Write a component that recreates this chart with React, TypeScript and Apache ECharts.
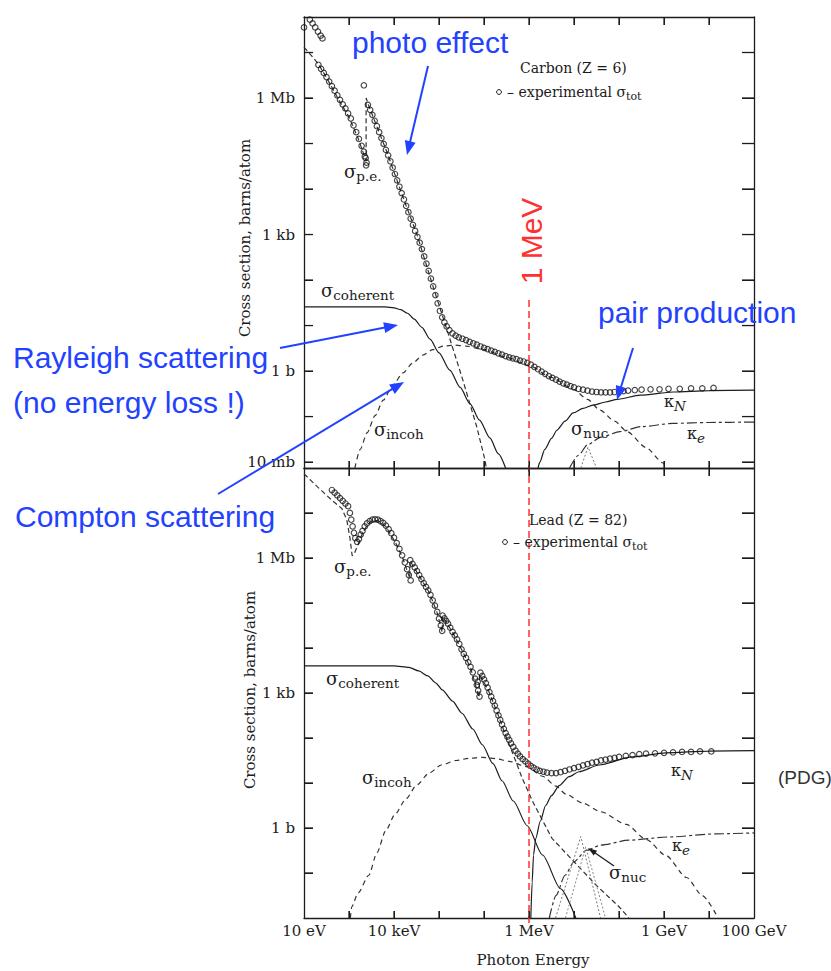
import React, { useEffect, useRef } from 'react';
import * as echarts from 'echarts';

const W = 831;
const H = 971;

const INK = '#1c1c1c';
const BLUE = '#2242ff';
const RED = '#ff3030';
const SERIF = '"DejaVu Serif", "Liberation Serif", serif';
const SANS = '"Liberation Sans", Arial, sans-serif';

// ---- layout of the two panels ----
const GRID_LEFT = 304;
const GRID_WIDTH = 450;
const TOP_GRID = { top: 17, height: 451 };
const BOT_GRID = { top: 468, height: 450 };

// ---- axis ranges (log10 units) ----
const X_LOG_RANGE = [1, 10.999]; // 10 eV ... 100 GeV
const TOP_Y_LOG_RANGE = [-2.13, 7.78];
const BOT_Y_LOG_RANGE = [-2, 7.999];
const ONE_MEV = 1e6;

// ---- ticks (decades) and tick labels ----
const xDecades = [2, 3, 4, 5, 6, 7, 8, 9, 10];
const topYDecades = [-2, -1, 0, 1, 2, 3, 4, 5, 6, 7];
const botYDecades = [-1, 0, 1, 2, 3, 4, 5, 6, 7];
const xTickExps = [1, 3, 6, 9, 11];
const xTickLabels = ['10 eV', '10 keV', '1 MeV', '1 GeV', '100 GeV'];
const yTickExps = [-2, 0, 3, 6];
const yTickLabels = ['10 mb', '1 b', '1 kb', '1 Mb'];

// ---- data: pairs of [log10(E / eV), log10(sigma / barn)] ----
const carbonExp = [
  [1.0, 7.55], [1.13, 7.72], [1.19, 7.64], [1.25, 7.55], [1.31, 7.46], [1.37, 7.37], [1.41, 7.31],
  [1.32, 6.73], [1.38, 6.64], [1.44, 6.55], [1.5, 6.46], [1.56, 6.36], [1.62, 6.26], [1.68, 6.16],
  [1.74, 6.06], [1.8, 5.96], [1.86, 5.86], [1.92, 5.77], [1.98, 5.66], [2.04, 5.55], [2.1, 5.4],
  [2.16, 5.25], [2.22, 5.1], [2.28, 4.95], [2.33, 4.82], [2.37, 4.68], [2.39, 4.58], [2.35, 4.72],
  [2.38, 4.52], [2.33, 6.28],
  [2.42, 5.85], [2.47, 5.74], [2.52, 5.63], [2.57, 5.5], [2.62, 5.38], [2.67, 5.25], [2.72, 5.12],
  [2.77, 4.99], [2.82, 4.86], [2.87, 4.74], [2.92, 4.61], [2.97, 4.47], [3.02, 4.33], [3.07, 4.19],
  [3.12, 4.05], [3.17, 3.91], [3.22, 3.77], [3.27, 3.63], [3.32, 3.49], [3.37, 3.35], [3.42, 3.21],
  [3.47, 3.08], [3.52, 2.95], [3.57, 2.82], [3.62, 2.68], [3.67, 2.52], [3.72, 2.36], [3.77, 2.2],
  [3.82, 2.03], [3.87, 1.86], [3.92, 1.67], [3.97, 1.49], [4.02, 1.32], [4.07, 1.18], [4.12, 1.07],
  [4.17, 0.98], [4.23, 0.9], [4.3, 0.83], [4.37, 0.78], [4.44, 0.74], [4.52, 0.71], [4.6, 0.68],
  [4.68, 0.64], [4.76, 0.61], [4.84, 0.58], [4.92, 0.54], [5.0, 0.51], [5.08, 0.48], [5.16, 0.45],
  [5.24, 0.42], [5.32, 0.39], [5.4, 0.36], [5.48, 0.33], [5.56, 0.3], [5.64, 0.28], [5.72, 0.26],
  [5.8, 0.23], [5.88, 0.21], [5.96, 0.18], [6.04, 0.14], [6.12, 0.09], [6.2, 0.04], [6.28, -0.01],
  [6.36, -0.06], [6.44, -0.11], [6.52, -0.15], [6.6, -0.19], [6.68, -0.23], [6.76, -0.27], [6.84, -0.3],
  [6.92, -0.33], [7.0, -0.36], [7.1, -0.39], [7.2, -0.41], [7.3, -0.43], [7.4, -0.45], [7.5, -0.46],
  [7.6, -0.47], [7.7, -0.47], [7.8, -0.47], [7.9, -0.46], [8.0, -0.45], [8.1, -0.44], [8.2, -0.43],
  [8.35, -0.42], [8.5, -0.41], [8.7, -0.4], [8.9, -0.4], [9.1, -0.39], [9.35, -0.39], [9.6, -0.38],
  [9.85, -0.38], [10.1, -0.37],
];
const carbonPhoto = [
  [1.0, 7.12], [1.15, 6.95], [1.31, 6.76], [1.5, 6.45], [1.75, 6.0], [2.0, 5.58], [2.2, 5.12],
  [2.38, 4.62], [2.38, 6.0], [2.45, 5.8], [2.84, 4.82], [3.2, 3.82], [3.51, 3.0], [3.87, 1.85],
  [4.18, 0.9], [4.53, -0.2], [4.84, -1.23], [5.02, -1.95], [5.05, -2.13],
];
const carbonCoherent = [
  [1.0, 1.41], [2.0, 1.41], [2.8, 1.41], [3.0, 1.39], [3.15, 1.35], [3.3, 1.27], [3.45, 1.14],
  [3.62, 0.96], [3.8, 0.7], [4.0, 0.4], [4.24, 0.02], [4.47, -0.36], [4.69, -0.72], [4.9, -1.08],
  [5.13, -1.47], [5.32, -1.82], [5.48, -2.13],
];
const carbonIncoh = [
  [2.13, -2.13], [2.25, -1.72], [2.4, -1.36], [2.58, -0.98], [2.76, -0.64], [2.98, -0.3], [3.2, -0.04],
  [3.42, 0.18], [3.64, 0.35], [3.86, 0.47], [4.09, 0.55], [4.35, 0.57], [4.6, 0.55], [5.0, 0.47],
  [5.5, 0.3], [6.0, 0.12], [6.5, -0.14], [6.98, -0.4], [7.3, -0.62], [7.58, -0.86], [7.9, -1.1],
  [8.18, -1.33], [8.6, -1.68], [8.98, -2.02], [9.05, -2.13],
];
const carbonKappaN = [
  [6.2, -2.13], [6.24, -2.0], [6.35, -1.72], [6.5, -1.48], [6.62, -1.3], [6.8, -1.1], [6.98, -0.92],
  [7.2, -0.82], [7.42, -0.75], [7.7, -0.68], [7.96, -0.62], [8.47, -0.53], [9.2, -0.46], [10.0, -0.43],
  [11.0, -0.42],
];
const carbonKappaE = [
  [6.9, -2.13], [7.1, -1.85], [7.3, -1.62], [7.6, -1.45], [8.02, -1.33], [8.5, -1.22], [9.2, -1.15],
  [10.0, -1.13], [11.0, -1.12],
];
const carbonNuc = [[7.15, -2.13], [7.31, -1.67], [7.5, -2.13]];

const leadExp = [
  [1.62, 7.51], [1.68, 7.45], [1.74, 7.39], [1.8, 7.33], [1.86, 7.27], [1.92, 7.21], [1.98, 7.15],
  [2.02, 7.0], [2.05, 6.85], [2.08, 6.7], [2.11, 6.56], [2.14, 6.44], [2.18, 6.36], [2.22, 6.42],
  [2.26, 6.52], [2.3, 6.6], [2.35, 6.7], [2.4, 6.77], [2.46, 6.82], [2.52, 6.85], [2.58, 6.86],
  [2.64, 6.85], [2.7, 6.82], [2.76, 6.78], [2.82, 6.72], [2.88, 6.64], [2.94, 6.55], [3.0, 6.45],
  [3.06, 6.33], [3.12, 6.2], [3.18, 6.06], [3.24, 5.9], [3.29, 5.75], [3.33, 5.62], [3.37, 5.5],
  [3.36, 5.95], [3.41, 5.87], [3.46, 5.79], [3.51, 5.71], [3.56, 5.62], [3.61, 5.53], [3.66, 5.44],
  [3.71, 5.36], [3.76, 5.28], [3.81, 5.18], [3.86, 5.06], [3.91, 4.94], [3.96, 4.8], [4.0, 4.65],
  [4.04, 4.5], [4.07, 4.38], [4.08, 4.72], [4.12, 4.66], [4.16, 4.6], [4.2, 4.54], [4.25, 4.45],
  [4.3, 4.36], [4.35, 4.28], [4.4, 4.19], [4.45, 4.09], [4.5, 3.97], [4.55, 3.87], [4.6, 3.78],
  [4.65, 3.68], [4.7, 3.58], [4.75, 3.46], [4.8, 3.32], [4.84, 3.18], [4.87, 3.05], [4.9, 2.92],
  [4.86, 3.25], [4.92, 3.45], [4.96, 3.38], [5.0, 3.3], [5.04, 3.22], [5.08, 3.12], [5.12, 3.02],
  [5.16, 2.92], [5.2, 2.82], [5.24, 2.72], [5.28, 2.61], [5.32, 2.5], [5.36, 2.4], [5.4, 2.3],
  [5.44, 2.2], [5.48, 2.11], [5.52, 2.03], [5.56, 1.96], [5.6, 1.88], [5.65, 1.8], [5.7, 1.72],
  [5.75, 1.65], [5.8, 1.59], [5.86, 1.53], [5.92, 1.48], [5.98, 1.43], [6.04, 1.38], [6.1, 1.34],
  [6.17, 1.3], [6.24, 1.27], [6.32, 1.25], [6.4, 1.23], [6.5, 1.22], [6.6, 1.22], [6.7, 1.24],
  [6.8, 1.27], [6.9, 1.3], [7.0, 1.33], [7.1, 1.36], [7.2, 1.39], [7.3, 1.42], [7.4, 1.45],
  [7.5, 1.47], [7.6, 1.5], [7.7, 1.52], [7.8, 1.54], [7.9, 1.56], [8.0, 1.58], [8.15, 1.6],
  [8.3, 1.62], [8.45, 1.64], [8.6, 1.65], [8.8, 1.66], [9.0, 1.67], [9.2, 1.68], [9.4, 1.69],
  [9.6, 1.69], [9.8, 1.7], [10.05, 1.7],
];
const leadPhoto = [
  [1.0, 7.87], [1.3, 7.58], [1.6, 7.3], [1.84, 7.1], [1.95, 6.85], [2.02, 6.45], [2.07, 6.05],
  [2.12, 6.1], [2.2, 6.3], [2.3, 6.55], [2.4, 6.72], [2.51, 6.83], [2.64, 6.83], [2.82, 6.7],
  [3.04, 6.33], [3.2, 5.98], [3.35, 5.55], [3.36, 5.93], [3.56, 5.6], [3.78, 5.24], [3.96, 4.78],
  [4.07, 4.35], [4.08, 4.7], [4.3, 4.35], [4.51, 3.95], [4.7, 3.56], [4.89, 2.9], [4.9, 3.42],
  [5.1, 3.05], [5.3, 2.55], [5.5, 2.0], [5.7, 1.5], [5.85, 1.1], [6.1, 0.55], [6.51, -0.23],
  [7.0, -0.75], [7.49, -1.27], [8.0, -1.75], [8.22, -2.0],
];
const leadCoherent = [
  [1.0, 3.6], [2.0, 3.6], [3.0, 3.6], [3.33, 3.57], [3.55, 3.49], [3.75, 3.38], [3.93, 3.22],
  [4.07, 3.07], [4.3, 2.82], [4.51, 2.55], [4.75, 2.2], [4.96, 1.85], [5.2, 1.43], [5.4, 1.05],
  [5.65, 0.6], [5.96, 0.05], [6.3, -0.6], [6.7, -1.35], [7.04, -2.0],
];
const leadIncoh = [
  [2.03, -2.0], [2.06, -1.75], [2.2, -1.45], [2.44, -1.05], [2.62, -0.55], [2.82, -0.05], [3.02, 0.3],
  [3.27, 0.65], [3.5, 0.95], [3.78, 1.22], [4.05, 1.4], [4.38, 1.5], [4.67, 1.55], [4.96, 1.57],
  [5.26, 1.54], [5.56, 1.48], [5.96, 1.36], [6.3, 1.15], [6.6, 0.93], [6.82, 0.75], [7.2, 0.55],
  [7.6, 0.36], [8.16, 0.08], [8.6, -0.25], [9.04, -0.61], [9.5, -1.1], [9.85, -1.5], [10.2, -2.0],
];
const leadKappaN = [
  [6.04, -2.0], [6.07, -1.2], [6.1, -0.6], [6.15, -0.23], [6.25, 0.15], [6.37, 0.5], [6.5, 0.72],
  [6.67, 0.94], [6.89, 1.14], [7.11, 1.25], [7.56, 1.4], [8.29, 1.58], [9.04, 1.67], [10.0, 1.71],
  [11.0, 1.72],
];
const leadKappaE = [
  [6.45, -2.0], [6.6, -1.5], [6.8, -1.05], [7.0, -0.75], [7.27, -0.5], [7.6, -0.38], [8.22, -0.27],
  [9.11, -0.2], [10.16, -0.13], [11.0, -0.11],
];
const leadNucA = [[6.59, -2.0], [7.15, -0.19], [7.59, -2.0]];
const leadNucB = [[6.81, -2.0], [7.26, -0.42], [7.7, -2.0]];

// ---------------------------------------------------------------------------
const toLin = (pts: number[][]) => pts.map(([e, s]) => [Math.pow(10, e), Math.pow(10, s)]);

function labelFor(v: number, exps: number[], labels: string[]) {
  const l = Math.log10(v);
  const r = Math.round(l);
  if (Math.abs(l - r) > 0.02) return '';
  const i = exps.indexOf(r);
  return i >= 0 ? labels[i] : '';
}

function lineSeries(pts: number[][], grid: number, dash: any, opts: any = {}) {
  return {
    type: 'line',
    xAxisIndex: grid * 2,
    yAxisIndex: grid * 2,
    data: toLin(pts),
    symbol: 'none',
    showSymbol: false,
    smooth: opts.smooth ?? 0.25,
    smoothMonotone: 'x',
    clip: true,
    silent: true,
    z: 2,
    lineStyle: { color: opts.color ?? INK, width: opts.width ?? 1.2, type: dash },
  };
}

function scatterSeries(pts: number[][], grid: number) {
  return {
    type: 'scatter',
    xAxisIndex: grid * 2,
    yAxisIndex: grid * 2,
    data: toLin(pts),
    symbol: 'circle',
    symbolSize: 5.5,
    clip: true,
    silent: true,
    z: 3,
    itemStyle: { color: 'rgba(255,255,255,0)', borderColor: '#151515', borderWidth: 1.15 },
  };
}

function xAxisFor(grid: number, position: string, labels: boolean) {
  return {
    type: 'log',
    logBase: 10,
    gridIndex: grid,
    position,
    splitNumber: 10,
    min: Math.pow(10, X_LOG_RANGE[0]),
    max: Math.pow(10, X_LOG_RANGE[1]),
    splitLine: { show: false },
    axisLine: { show: true, onZero: false, lineStyle: { color: INK, width: 1.3 } },
    axisTick: { show: true, inside: true, length: position === 'top' ? 8 : 7 },
    axisLabel: labels
      ? {
          show: true,
          margin: 5,
          fontFamily: SERIF,
          fontSize: 15,
          color: INK,
          showMinLabel: true,
          showMaxLabel: true,
          formatter: (v: number) => labelFor(v, xTickExps, xTickLabels),
        }
      : { show: false },
  };
}

function yAxisFor(grid: number, position: string, range: number[]) {
  const left = position === 'left';
  return {
    type: 'log',
    logBase: 10,
    gridIndex: grid,
    position,
    splitNumber: 10,
    min: Math.pow(10, range[0]),
    max: Math.pow(10, range[1]),
    splitLine: { show: false },
    axisLine: { show: true, onZero: false, lineStyle: { color: INK, width: 1.3 } },
    axisTick: { show: true, inside: true, length: left ? 9 : 12 },
    axisLabel: left
      ? {
          show: true,
          margin: 9,
          fontFamily: SERIF,
          fontSize: 15,
          color: INK,
          showMinLabel: false,
          showMaxLabel: false,
          formatter: (v: number) => labelFor(v, yTickExps, yTickLabels),
        }
      : { show: false },
  };
}

function buildOption() {
  return {
    animation: false,
    backgroundColor: '#ffffff',
    grid: [
      { left: GRID_LEFT, top: TOP_GRID.top, width: GRID_WIDTH, height: TOP_GRID.height },
      { left: GRID_LEFT, top: BOT_GRID.top, width: GRID_WIDTH, height: BOT_GRID.height },
    ],
    xAxis: [
      xAxisFor(0, 'bottom', false),
      xAxisFor(0, 'top', false),
      xAxisFor(1, 'bottom', true),
      xAxisFor(1, 'top', false),
    ],
    yAxis: [
      yAxisFor(0, 'left', TOP_Y_LOG_RANGE),
      yAxisFor(0, 'right', TOP_Y_LOG_RANGE),
      yAxisFor(1, 'left', BOT_Y_LOG_RANGE),
      yAxisFor(1, 'right', BOT_Y_LOG_RANGE),
    ],
    series: [
      lineSeries(carbonPhoto, 0, [5, 3], { smooth: 0, color: '#333' }),
      lineSeries(carbonCoherent, 0, 'solid'),
      lineSeries(carbonIncoh, 0, [5, 4], { color: '#333' }),
      lineSeries(carbonKappaN, 0, 'solid'),
      lineSeries(carbonKappaE, 0, [10, 3, 3, 3], { color: '#333' }),
      lineSeries(carbonNuc, 0, [2, 2], { smooth: 0, color: '#777', width: 1 }),
      scatterSeries(carbonExp, 0),
      lineSeries(leadPhoto, 1, [5, 3], { smooth: 0, color: '#333' }),
      lineSeries(leadCoherent, 1, 'solid'),
      lineSeries(leadIncoh, 1, [5, 4], { color: '#333' }),
      lineSeries(leadKappaN, 1, 'solid'),
      lineSeries(leadKappaE, 1, [10, 3, 3, 3], { color: '#333' }),
      lineSeries(leadNucA, 1, [2, 2], { smooth: 0, color: '#777', width: 1 }),
      lineSeries(leadNucB, 1, [2, 2], { smooth: 0, color: '#888', width: 1 }),
      scatterSeries(leadExp, 1),
    ],
  };
}

function seg(x1: number, y1: number, x2: number, y2: number, color = INK, lw = 1.3) {
  return { type: 'line', z: 95, silent: true, shape: { x1, y1, x2, y2 }, style: { stroke: color, lineWidth: lw } };
}

function txt(x: number, y: number, text: string, o: any = {}) {
  return {
    type: 'text',
    x,
    y,
    z: 100,
    silent: true,
    rotation: o.rotation ?? 0,
    style: {
      text,
      fontFamily: o.family ?? SERIF,
      fontSize: o.size ?? 14,
      fill: o.color ?? INK,
      align: o.align ?? 'left',
      verticalAlign: 'middle',
    },
  };
}

function symLabel(x: number, y: number, main: string, sub: string, o: any = {}) {
  const mainSize = o.mainSize ?? 18;
  const subSize = o.subSize ?? 13.5;
  return {
    type: 'text',
    x,
    y,
    z: 100,
    silent: true,
    style: {
      text: `{m|${main}}{s|${sub}}`,
      align: 'left',
      verticalAlign: 'middle',
      rich: {
        m: { fontFamily: SERIF, fontSize: mainSize, lineHeight: o.mainLH ?? 24, fill: INK },
        s: {
          fontFamily: SERIF,
          fontSize: subSize,
          lineHeight: o.subLH ?? 11,
          verticalAlign: 'bottom',
          fill: INK,
          fontStyle: o.italicSub ? 'italic' : 'normal',
        },
      },
    },
  };
}

function arrow(x1: number, y1: number, x2: number, y2: number, color: string, lw: number, hl: number, hw: number) {
  const dx = x2 - x1;
  const dy = y2 - y1;
  const L = Math.hypot(dx, dy);
  const ux = dx / L;
  const uy = dy / L;
  const bx = x2 - ux * hl;
  const by = y2 - uy * hl;
  const px = -uy;
  const py = ux;
  return [
    { type: 'line', z: 101, silent: true, shape: { x1, y1, x2: bx + ux * 2, y2: by + uy * 2 }, style: { stroke: color, lineWidth: lw } },
    {
      type: 'polygon',
      z: 101,
      silent: true,
      shape: { points: [[x2, y2], [bx + (px * hw) / 2, by + (py * hw) / 2], [bx - (px * hw) / 2, by - (py * hw) / 2]] },
      style: { fill: color },
    },
  ];
}

// tick marks: positions come from the chart's own axis scales
function buildTicks(chart: any) {
  const out: any[] = [];
  const right = GRID_LEFT + GRID_WIDTH;
  const panels = [
    { g: TOP_GRID, xi: 0, yi: 0, yDec: topYDecades },
    { g: BOT_GRID, xi: 2, yi: 2, yDec: botYDecades },
  ];
  panels.forEach((p) => {
    const top = p.g.top;
    const bottom = p.g.top + p.g.height;
    xDecades.forEach((e) => {
      const x = chart.convertToPixel({ xAxisIndex: p.xi }, Math.pow(10, e));
      if (typeof x !== 'number' || !isFinite(x)) return;
      out.push(seg(x, bottom, x, bottom - 7));
      out.push(seg(x, top, x, top + 8));
    });
    p.yDec.forEach((e) => {
      const y = chart.convertToPixel({ yAxisIndex: p.yi }, Math.pow(10, e));
      if (typeof y !== 'number' || !isFinite(y)) return;
      out.push(seg(GRID_LEFT, y, GRID_LEFT + 9, y));
      out.push(seg(right - 12, y, right, y));
    });
  });
  return out;
}

function buildGraphic(chart: any) {
  const mev = chart.convertToPixel({ xAxisIndex: 0 }, ONE_MEV);
  const xMeV = typeof mev === 'number' && isFinite(mev) ? mev : 528;
  return [
    ...buildTicks(chart),

    txt(245, 238, 'Cross section, barns/atom', { rotation: Math.PI / 2, align: 'center', size: 15 }),
    txt(250, 690, 'Cross section, barns/atom', { rotation: Math.PI / 2, align: 'center', size: 15 }),
    txt(533, 960, 'Photon Energy', { align: 'center', size: 15 }),

    txt(520, 68, 'Carbon (Z = 6)', { size: 14 }),
    { type: 'circle', z: 100, silent: true, shape: { cx: 499, cy: 92, r: 2.4 }, style: { fill: '#fff', stroke: INK, lineWidth: 1 } },
    symLabel(507, 92, '– experimental σ', 'tot', { mainSize: 14, subSize: 11, mainLH: 20, subLH: 9 }),
    txt(529, 520, 'Lead (Z = 82)', { size: 14 }),
    { type: 'circle', z: 100, silent: true, shape: { cx: 505, cy: 542, r: 2.4 }, style: { fill: '#fff', stroke: INK, lineWidth: 1 } },
    symLabel(513, 542, '– experimental σ', 'tot', { mainSize: 14, subSize: 11, mainLH: 20, subLH: 9 }),

    symLabel(344, 171, 'σ', 'p.e.'),
    symLabel(321, 290, 'σ', 'coherent'),
    symLabel(374, 429, 'σ', 'incoh'),
    symLabel(571, 428, 'σ', 'nuc'),
    symLabel(664, 401, 'κ', 'N', { mainSize: 16, italicSub: true }),
    symLabel(687, 433, 'κ', 'e', { mainSize: 16, italicSub: true }),

    symLabel(334, 566, 'σ', 'p.e.'),
    symLabel(326, 678, 'σ', 'coherent'),
    symLabel(362, 777, 'σ', 'incoh'),
    symLabel(671, 770, 'κ', 'N', { mainSize: 16, italicSub: true }),
    symLabel(672, 845, 'κ', 'e', { mainSize: 16, italicSub: true }),
    symLabel(609, 872, 'σ', 'nuc'),
    ...arrow(614, 866, 588, 848, INK, 1.3, 9, 6),

    {
      type: 'line',
      z: 90,
      silent: true,
      shape: { x1: xMeV, y1: 300, x2: xMeV, y2: 925 },
      style: { stroke: RED, lineWidth: 1.5, lineDash: [7, 4] },
    },
    txt(xMeV + 2.5, 241, '1 MeV', { rotation: Math.PI / 2, align: 'center', size: 30, family: SANS, color: RED }),

    txt(352, 42, 'photo effect', { size: 30, family: SANS, color: BLUE }),
    txt(13, 357, 'Rayleigh scattering', { size: 30, family: SANS, color: BLUE }),
    txt(13, 402, '(no energy loss !)', { size: 30, family: SANS, color: BLUE }),
    txt(15, 516, 'Compton scattering', { size: 30, family: SANS, color: BLUE }),
    txt(598, 312, 'pair production', { size: 30, family: SANS, color: BLUE }),
    ...arrow(428, 66, 407, 155, BLUE, 2, 14, 11),
    ...arrow(280, 348, 398, 325, BLUE, 2, 14, 11),
    ...arrow(218, 494, 404, 382, BLUE, 2, 14, 11),
    ...arrow(633, 348, 617, 400, BLUE, 2, 14, 11),

    txt(778, 777, '(PDG)', { size: 19, family: SANS, color: '#333' }),
  ];
}

export default function App() {
  const ref = useRef<HTMLDivElement>(null);
  useEffect(() => {
    document.body.style.margin = '0';
    document.body.style.overflow = 'hidden';
    const el = ref.current;
    if (!el) return;
    const chart = echarts.init(el, null, { renderer: 'svg' });
    chart.setOption(buildOption() as any);
    chart.setOption({ graphic: buildGraphic(chart) } as any);
    return () => chart.dispose();
  }, []);
  return <div ref={ref} style={{ width: W, height: H }} />;
}
